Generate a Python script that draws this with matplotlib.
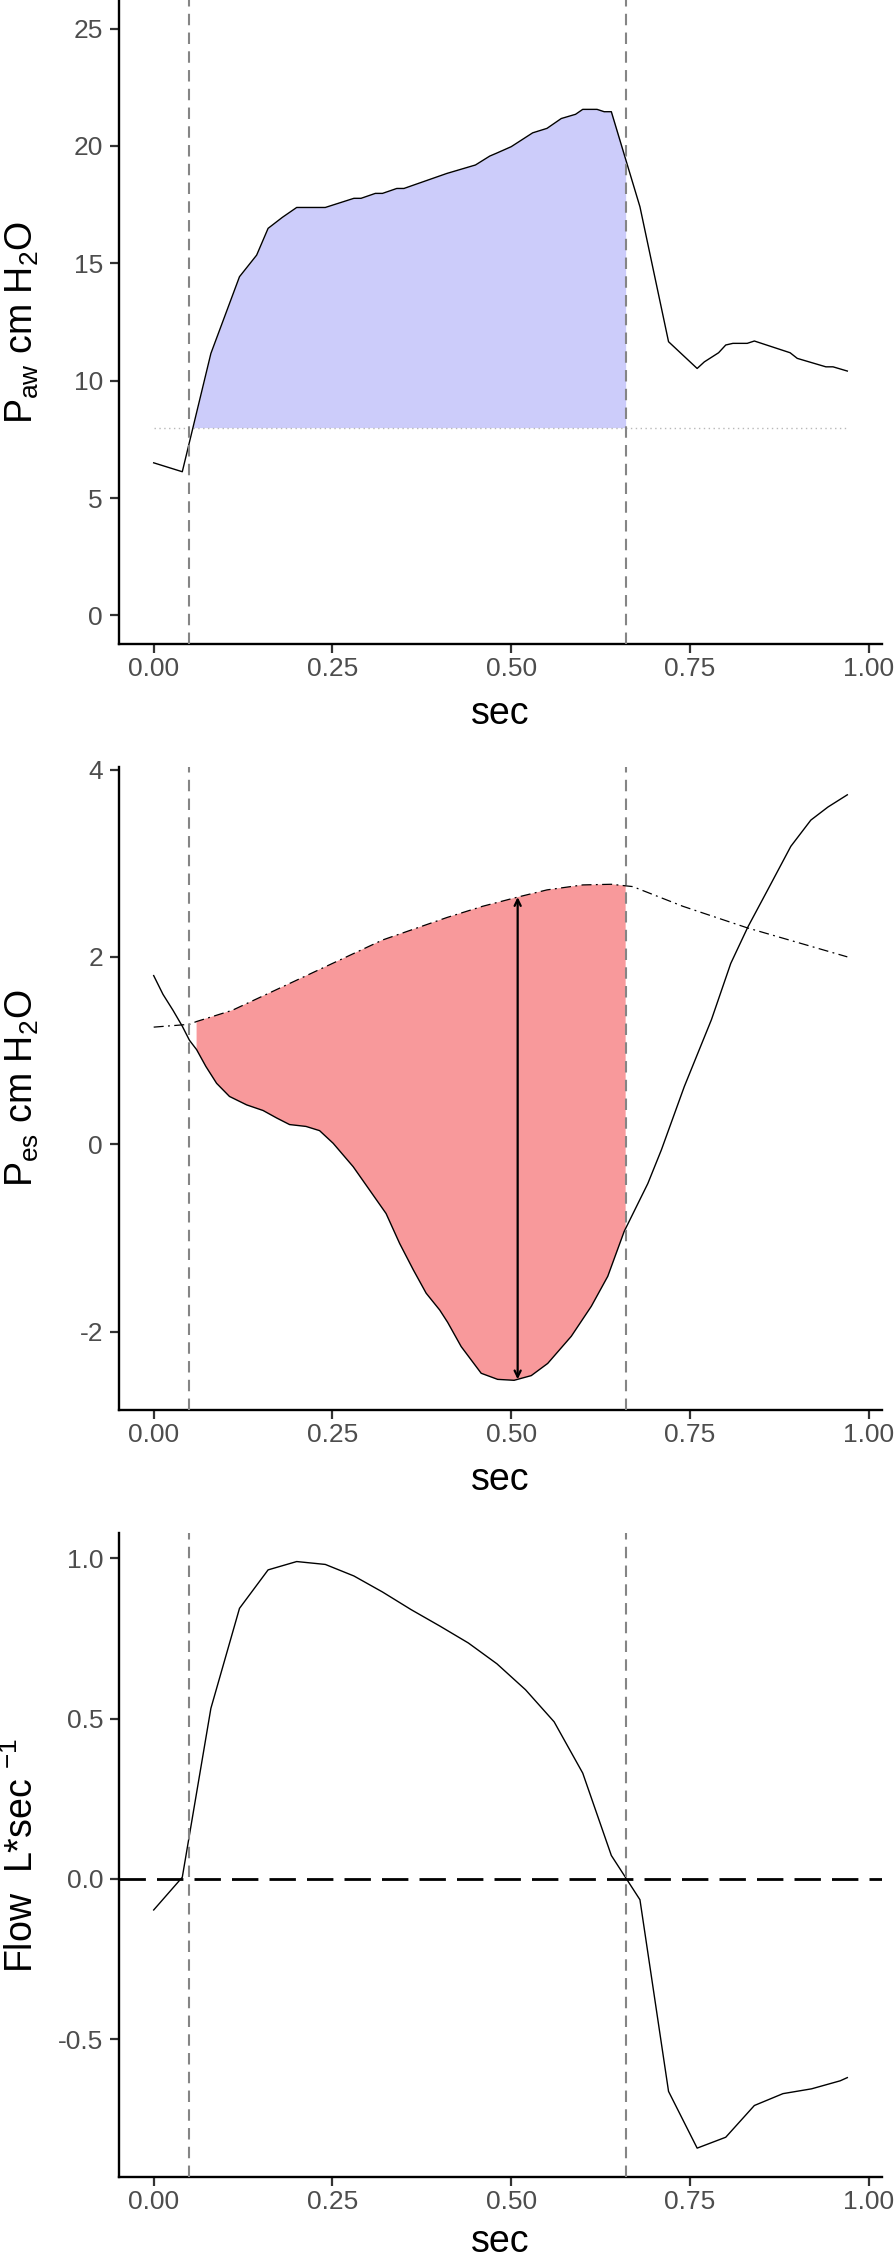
import numpy as np
import matplotlib
matplotlib.use('Agg')
import matplotlib.pyplot as plt

plt.rcParams['font.family'] = ['Liberation Sans', 'DejaVu Sans']
plt.rcParams['mathtext.fontset'] = 'custom'
plt.rcParams['mathtext.rm'] = 'Liberation Sans'
plt.rcParams['mathtext.it'] = 'Liberation Sans:italic'

# airway pressure (cm H2O)
paw_t = np.array([0, 0.04, 0.08, 0.12, 0.144, 0.16, 0.18, 0.20, 0.24, 0.28, 0.29, 0.31, 0.32,
                  0.34, 0.35, 0.41, 0.45, 0.47, 0.48, 0.50, 0.53, 0.55, 0.57, 0.59, 0.60, 0.62,
                  0.63, 0.64, 0.68, 0.72, 0.76, 0.77, 0.79, 0.80, 0.81, 0.83, 0.84, 0.89, 0.90,
                  0.94, 0.95, 0.97])
paw = np.array([6.50, 6.12, 11.16, 14.43, 15.35, 16.49, 16.96, 17.38, 17.38, 17.77, 17.77, 17.98,
                17.98, 18.19, 18.19, 18.83, 19.19, 19.57, 19.70, 19.97, 20.56, 20.75, 21.17, 21.35,
                21.56, 21.56, 21.46, 21.46, 17.41, 11.66, 10.52, 10.80, 11.19, 11.52, 11.59, 11.59,
                11.69, 11.19, 10.95, 10.59, 10.59, 10.41])
peep = 8

# esophageal pressure (cm H2O)
pes_t = np.array([0, 0.013, 0.027, 0.040, 0.050, 0.060, 0.073, 0.088, 0.106, 0.130, 0.153, 0.172,
                  0.190, 0.213, 0.232, 0.251, 0.279, 0.302, 0.325, 0.344, 0.363, 0.381, 0.400,
                  0.411, 0.430, 0.458, 0.481, 0.504, 0.528, 0.551, 0.584, 0.612, 0.635, 0.658,
                  0.691, 0.710, 0.742, 0.780, 0.807, 0.831, 0.859, 0.891, 0.919, 0.943, 0.97])
pes = np.array([1.80, 1.60, 1.43, 1.26, 1.11, 1.01, 0.83, 0.65, 0.51, 0.42, 0.36, 0.28, 0.21,
                0.19, 0.145, 0.01, -0.24, -0.49, -0.74, -1.06, -1.34, -1.59, -1.77, -1.90, -2.16,
                -2.445, -2.51, -2.52, -2.47, -2.34, -2.05, -1.73, -1.41, -0.93, -0.42, -0.06,
                0.615, 1.33, 1.93, 2.32, 2.72, 3.18, 3.46, 3.60, 3.73])

# chest wall reference (dot-dash)
cw_t = np.array([0, 0.05, 0.06, 0.11, 0.18, 0.25, 0.32, 0.41, 0.46, 0.51, 0.55, 0.60, 0.64,
                 0.67, 0.74, 0.83, 0.97])
cw = np.array([1.25, 1.28, 1.31, 1.43, 1.68, 1.93, 2.18, 2.42, 2.54, 2.64, 2.715, 2.768, 2.775,
               2.75, 2.54, 2.31, 2.00])

# flow (L/sec)
flow_t = np.array([0, 0.04, 0.08, 0.12, 0.16, 0.20, 0.24, 0.28, 0.32, 0.36, 0.40, 0.44, 0.48,
                   0.52, 0.56, 0.60, 0.64, 0.68, 0.72, 0.76, 0.80, 0.84, 0.88, 0.92, 0.96, 0.97])
flow = np.array([-0.097, 0.005, 0.532, 0.844, 0.964, 0.99, 0.981, 0.945, 0.895, 0.84, 0.789,
                 0.736, 0.671, 0.59, 0.49, 0.33, 0.073, -0.065, -0.663, -0.84, -0.806, -0.707,
                 -0.67, -0.655, -0.63, -0.62])

insp_start = 0.05
insp_end = 0.66
arrow_t = 0.509
pes_fill_start = 0.06

xticks = [0, 0.25, 0.5, 0.75, 1.0]
xticklabels = ['0.00', '0.25', '0.50', '0.75', '1.00']

W, H = 896, 2259
fig = plt.figure(figsize=(W / 100, H / 100), dpi=100)

left = 119 / W
width = (882 - 119) / W
# (top px, bottom px) of each panel
boxes = [(0, 644), (766.7, 1410), (1532.7, 2177.3)]
axes = [fig.add_axes([left, 1 - b / H, width, (b - t) / H]) for t, b in boxes]


def clip_curve(t, v, lo, hi):
    inner = (t > lo) & (t < hi)
    tt = np.concatenate([[lo], t[inner], [hi]])
    vv = np.concatenate([[np.interp(lo, t, v)], v[inner], [np.interp(hi, t, v)]])
    return tt, vv


def style(ax, yticks, ylabels, ylabel, ylim, px_h, xlab_px=80):
    ax.set_xlim(-0.0485, 1.0185)
    ax.set_ylim(*ylim)
    ax.set_xticks(xticks)
    ax.set_xticklabels(xticklabels)
    ax.set_yticks(yticks)
    ax.set_yticklabels(ylabels)
    for s in ['top', 'right']:
        ax.spines[s].set_visible(False)
    for s in ['left', 'bottom']:
        ax.spines[s].set_linewidth(1.7)
        ax.spines[s].set_color('black')
    ax.tick_params(axis='both', length=6.5, width=1.6, color='#333333',
                   labelsize=19, labelcolor='#4D4D4D')
    ax.tick_params(axis='x', pad=3)
    ax.tick_params(axis='y', pad=5)
    ax.set_xlabel('sec', fontsize=27)
    ax.xaxis.set_label_coords(0.5, -xlab_px / px_h)
    ax.xaxis.label.set_va('baseline')
    ax.set_ylabel(ylabel, fontsize=27)
    ax.yaxis.set_label_coords(-(119 - 22) / 763, 0.5)
    ax.yaxis.label.set_va('center')
    for xv in [insp_start, insp_end]:
        ax.axvline(xv, color='#858585', lw=1.5, linestyle=(0, (5.5, 3.5)), zorder=4)


# Paw panel
ax1 = axes[0]
tt, vv = clip_curve(paw_t, paw, insp_start, insp_end)
ax1.fill_between(tt, vv, peep, where=vv >= peep, interpolate=True, color='#CCCCFA', lw=0, zorder=1)
ax1.plot([paw_t[0], paw_t[-1]], [peep, peep], color='#B8B8B8', lw=1.0, linestyle=(0, (1, 2.5)), zorder=2)
ax1.plot(paw_t, paw, color='black', lw=1.0, zorder=3)
style(ax1, [0, 5, 10, 15, 20, 25], ['0', '5', '10', '15', '20', '25'],
      r'P$_{\mathrm{aw}}$ cm H$_2$O', (-1.22, 26.22), 644)

# Pes panel
ax2 = axes[1]
tu, vu = clip_curve(cw_t, cw, pes_fill_start, insp_end)
tl, vl = clip_curve(pes_t, pes, pes_fill_start, insp_end)
ax2.fill(np.r_[tu, tl[::-1]], np.r_[vu, vl[::-1]], color='#F8999B', lw=0, zorder=1)
ax2.plot(cw_t, cw, color='black', lw=0.9, linestyle=(0, (8, 3.5, 1.5, 3.5)), zorder=3)
ax2.plot(pes_t, pes, color='black', lw=1.0, zorder=3)
ax2.annotate('', xy=(arrow_t, np.interp(arrow_t, pes_t, pes)),
             xytext=(arrow_t, np.interp(arrow_t, cw_t, cw)),
             arrowprops=dict(arrowstyle='<->,head_length=0.45,head_width=0.22', lw=1.6,
                             color='black', shrinkA=0, shrinkB=0), zorder=5)
style(ax2, [-2, 0, 2, 4], ['-2', '0', '2', '4'],
      r'P$_{\mathrm{es}}$ cm H$_2$O', (-2.837, 4.03), 643.3)

# Flow panel
ax3 = axes[2]
ax3.axhline(0, color='black', lw=2.0, linestyle=(0, (9.5, 4)), zorder=2)
ax3.plot(flow_t, flow, color='black', lw=1.0, zorder=3)
style(ax3, [-0.5, 0, 0.5, 1.0], ['-0.5', '0.0', '0.5', '1.0'],
      r'Flow  L*sec $^{-1}$', (-0.931, 1.08), 644.6, xlab_px=75)

fig.savefig('out.png', dpi=100)
